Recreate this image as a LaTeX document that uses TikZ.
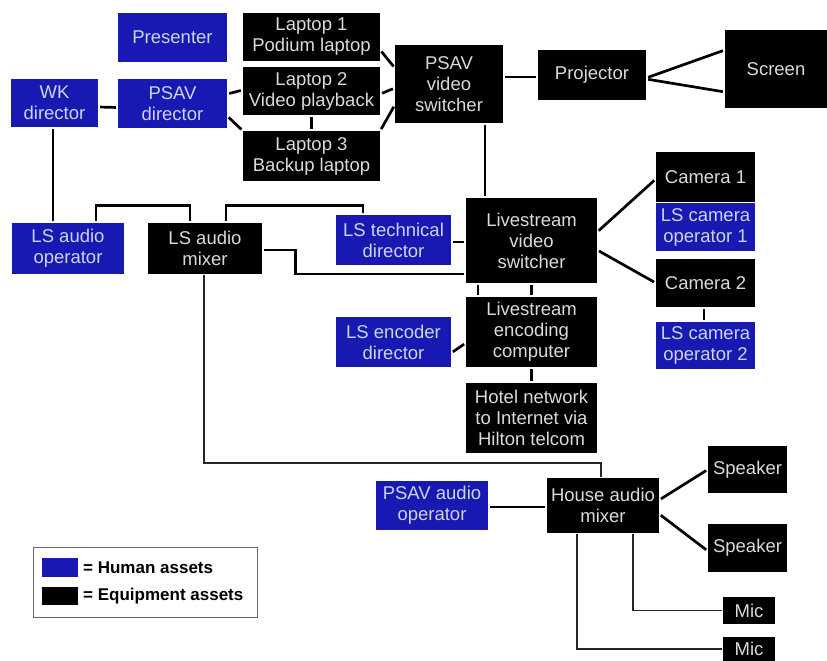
\documentclass[tikz,border=0pt]{standalone}
\usepackage{fontspec}
\setmainfont{Liberation Sans}
\definecolor{hblue}{RGB}{24,24,178}
\definecolor{btext}{RGB}{205,212,240}
\definecolor{etext}{RGB}{218,218,218}
\begin{document}
\begin{tikzpicture}[x=1pt,y=-1pt,
  box/.style={draw=none, inner sep=0pt, align=center, font=\fontsize{18.5}{21}\selectfont},
  hum/.style={box, fill=hblue, text=btext},
  eq/.style={box, fill=black, text=etext},
  link/.style={line width=2.7pt, shorten <=2pt, shorten >=2pt},
  thin link/.style={line width=1.7pt, draw=black!85, shorten <=1pt, shorten >=1pt}]
\useasboundingbox (0,0) rectangle (827,661);
\fill[white] (0,0) rectangle (827,661);
% human assets
\node[hum, minimum width=109, minimum height=49] (presenter) at (172.5,37.5) {Presenter};
\node[hum, minimum width=87, minimum height=48] (wk) at (54.5,103) {WK\\director};
\node[hum, minimum width=109, minimum height=49] (psavdir) at (172.5,103.5) {PSAV\\director};
\node[hum, minimum width=112, minimum height=51] (lsaudop) at (68,248.5) {LS audio\\operator};
\node[hum, minimum width=115, minimum height=50] (lstech) at (393.5,240) {LS technical\\director};
\node[hum, minimum width=115, minimum height=50] (lsencdir) at (393.5,342) {LS encoder\\director};
\node[hum, minimum width=99, minimum height=48] (camop1) at (705.5,227) {LS camera\\operator 1};
\node[hum, minimum width=99, minimum height=47] (camop2) at (705.5,345.5) {LS camera\\operator 2};
\node[hum, minimum width=112, minimum height=49] (psavaud) at (432,505.5) {PSAV audio\\operator};
% equipment assets
\node[eq, minimum width=137, minimum height=48] (l1) at (311.5,37) {Laptop 1\\Podium laptop};
\node[eq, minimum width=137, minimum height=48] (l2) at (311.5,91) {Laptop 2\\Video playback};
\node[eq, minimum width=137, minimum height=50] (l3) at (311.5,156) {Laptop 3\\Backup laptop};
\node[eq, minimum width=108, minimum height=78] (psavsw) at (449,84) {PSAV\\video\\switcher};
\node[eq, minimum width=108, minimum height=50] (proj) at (592,75) {Projector};
\node[eq, minimum width=102, minimum height=78] (screen) at (776,69) {Screen};
\node[eq, minimum width=99, minimum height=50] (cam1) at (705.5,177) {Camera 1};
\node[eq, minimum width=99, minimum height=48] (cam2) at (705.5,283) {Camera 2};
\node[eq, minimum width=131, minimum height=85] (lsvs) at (531.5,240.5) {Livestream\\video\\switcher};
\node[eq, minimum width=131, minimum height=70] (lsenc) at (531.5,332) {Livestream\\encoding\\computer};
\node[eq, minimum width=131, minimum height=70] (hotel) at (531.5,418) {Hotel network\\to Internet via\\Hilton telcom};
\node[eq, minimum width=114, minimum height=51] (lsaudmix) at (205,248.5) {LS audio\\mixer};
\node[eq, minimum width=112, minimum height=55] (house) at (603,505.5) {House audio\\mixer};
\node[eq, minimum width=79, minimum height=47] (spk1) at (747.5,469.5) {Speaker};
\node[eq, minimum width=79, minimum height=48] (spk2) at (747.5,548) {Speaker};
\node[eq, minimum width=52, minimum height=27] (mic1) at (749,610.5) {Mic};
\node[eq, minimum width=52, minimum height=24] (mic2) at (749,649) {Mic};
% connectors
\draw[link] ([yshift=-4pt]wk.east) -- ([yshift=-4pt]psavdir.west);
\draw[link] ([yshift=9.5pt]psavdir.east) -- ([yshift=1pt]l2.west);
\draw[link] ([yshift=-12.5pt]psavdir.east) -- (l3.north west);
\draw[link] (l2.south) -- (l3.north);
\draw[link] ([yshift=-13pt]l1.east) -- ([yshift=16pt]psavsw.west);
\draw[link] ([yshift=-3pt]l2.east) -- ([yshift=-4pt]psavsw.west);
\draw[link] (l3.north east) -- ([yshift=-21pt]psavsw.west);
\draw[link] ([yshift=7pt]psavsw.east) -- ([yshift=-2pt]proj.west);
\draw[link] ([yshift=-3pt]proj.east) -- ([yshift=19pt]screen.west);
\draw[link] ([yshift=-4pt]proj.east) -- ([yshift=-23pt]screen.west);
\draw[link] ([xshift=36pt]psavsw.south) -- ([xshift=36pt]psavsw.south |- lsvs.north);
\draw[link] ([xshift=-1.5pt]wk.south) -- ([xshift=-1.5pt]wk.south |- lsaudop.north);
\draw[link] ([xshift=28pt]lsaudop.north) -- ++(0,-17) -| ([xshift=-15pt]lsaudmix.north);
\draw[link] ([xshift=21pt]lsaudmix.north) -- ++(0,-17) -| ([xshift=-30.5pt]lstech.north);
\draw[link] ([yshift=-1.5pt]lsaudmix.east) -- ++(33,0) |- ([yshift=-33.5pt]lsvs.west);
\draw[link] ([yshift=-2pt]lstech.east) -- ([yshift=-1.5pt]lsvs.west);
\draw[link] ([xshift=-53.5pt]lsvs.south) -- ([xshift=-53.5pt]lsenc.north);
\draw[link] (lsvs.south) -- (lsenc.north);
\draw[link] ([yshift=-11pt]lsencdir.east) -- ([yshift=-11pt]lsenc.west);
\draw[link] (lsenc.south) -- (hotel.north);
\draw[link] ([yshift=8.5pt]lsvs.east) -- ([yshift=-2pt]cam1.west);
\draw[link] ([yshift=-9.5pt]lsvs.east) -- (cam2.west);
\draw[link] ([xshift=-1.5pt]cam2.south) -- ([xshift=-1.5pt]camop2.north);
\draw[thin link] ([xshift=-1pt]lsaudmix.south) |- ([xshift=-2pt,yshift=15pt]house.north) -- ([xshift=-2pt]house.north);
\draw[link] ([yshift=-1.5pt]psavaud.east) -- ([yshift=-1.5pt]house.west);
\draw[link] ([yshift=5.5pt]house.east) -- (spk1.west);
\draw[link] ([yshift=-8.5pt]house.east) -- ([yshift=-3pt]spk2.west);
\draw[thin link] ([xshift=30pt]house.south) |- (mic1.west);
\draw[thin link] ([xshift=-26pt]house.south) |- (mic2.west);
% legend
\node[draw=black!60, line width=0.8pt, minimum width=224, minimum height=70, inner sep=0pt] (legend) at (145.5,582.5) {};
\fill[hblue] (42,558) rectangle (78,577);
\fill[black] (42,587) rectangle (78,605);
\node[anchor=west, inner sep=0pt, font=\bfseries\fontsize{17}{19}\selectfont] (lh) at (83,568) {= Human assets};
\node[anchor=west, inner sep=0pt, font=\bfseries\fontsize{17}{19}\selectfont] (le) at (83,596) {= Equipment assets};
\end{tikzpicture}
\end{document}
